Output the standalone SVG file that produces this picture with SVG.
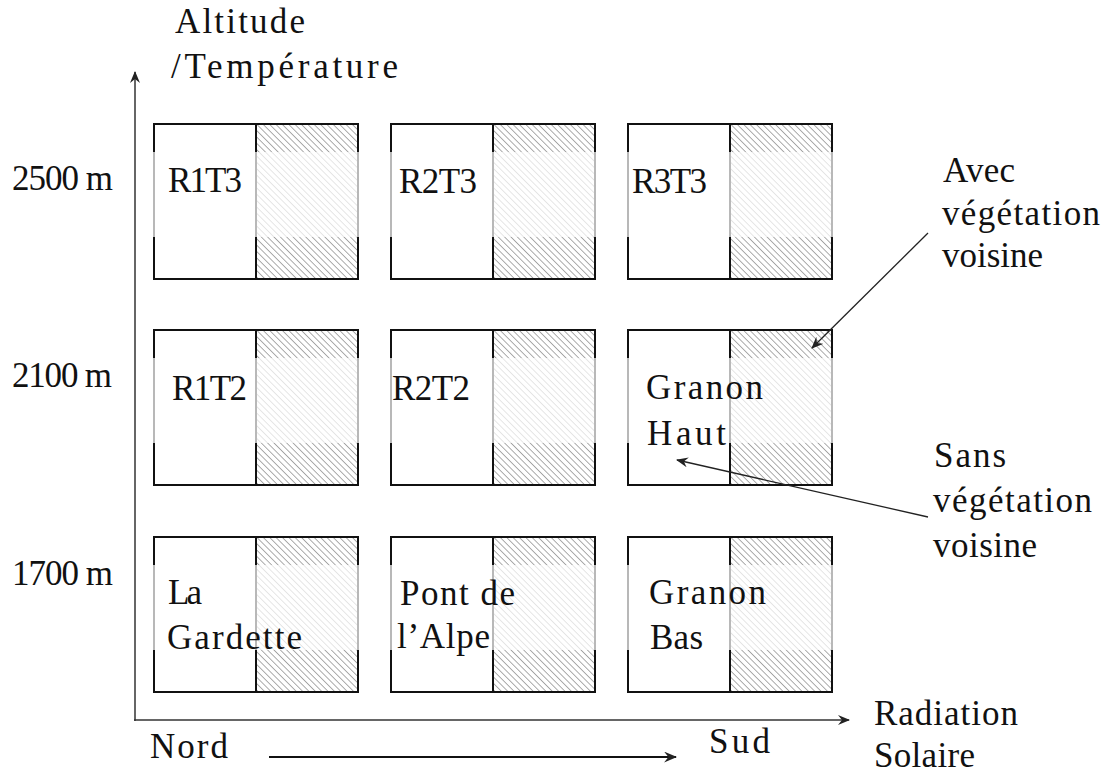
<svg xmlns="http://www.w3.org/2000/svg" width="1108" height="773" viewBox="0 0 1108 773">
<style>
text{font-family:"Liberation Serif","Times New Roman",serif;font-size:35px;fill:#111;}
.box{fill:#fff;stroke:#111;stroke-width:2;}
.hatch{fill:url(#hp);}
.div{stroke:#111;stroke-width:2;}
.band{fill:#fff;fill-opacity:0.7;}
.ax{stroke:#333;stroke-width:1.5;fill:none;}
.ptr{stroke:#222;stroke-width:1.3;fill:none;}
</style>
<defs>
<pattern id="hp" patternUnits="userSpaceOnUse" width="4.5" height="4.5" patternTransform="rotate(-45)">
<line x1="0" y1="0" x2="0" y2="4.5" stroke="#888" stroke-width="1.4"/>
</pattern>
<marker id="ah" viewBox="0 0 12 10" refX="11" refY="5" markerWidth="12" markerHeight="10" markerUnits="userSpaceOnUse" orient="auto">
<path d="M0,0 L12,5 L0,10 L4,5 Z" fill="#222"/>
</marker>
<marker id="ahs" viewBox="0 0 12 10" refX="11" refY="5" markerWidth="13" markerHeight="11" markerUnits="userSpaceOnUse" orient="auto">
<path d="M0,0 L12,5 L0,10 L4,5 Z" fill="#222"/>
</marker>
<g id="cell">
<rect class="box" x="0" y="0" width="204" height="155"/>
<rect class="hatch" x="102" y="1" width="101" height="153"/>
<line class="div" x1="102" y1="0" x2="102" y2="155"/>
<rect x="0" y="0" width="204" height="155" style="fill:none;stroke:#111;stroke-width:2"/>
<rect class="band" x="-2" y="28" width="208" height="85"/>
</g>
</defs>

<g id="axis-y-label">
<text x="175" y="33" textLength="130" lengthAdjust="spacing">Altitude</text>
<text x="171" y="78" textLength="227" lengthAdjust="spacing">/Température</text>
</g>
<g id="axis-x-label">
<text x="874" y="725" textLength="144" lengthAdjust="spacing">Radiation</text>
<text x="874" y="767" textLength="101" lengthAdjust="spacing">Solaire</text>
</g>
<g id="label-nord"><text x="150" y="758" textLength="78" lengthAdjust="spacing">Nord</text></g>
<g id="label-sud"><text x="709" y="753" textLength="61" lengthAdjust="spacing">Sud</text></g>
<g id="label-2500"><text x="12" y="190" textLength="101" lengthAdjust="spacing">2500 m</text></g>
<g id="label-2100"><text x="12" y="387" textLength="100" lengthAdjust="spacing">2100 m</text></g>
<g id="label-1700"><text x="12" y="585" textLength="101" lengthAdjust="spacing">1700 m</text></g>

<g id="box-R1T3"><use href="#cell" x="154" y="124"/><text x="168" y="192" textLength="74" lengthAdjust="spacing">R1T3</text></g>
<g id="box-R2T3"><use href="#cell" x="391" y="124"/><text x="399" y="193" textLength="78" lengthAdjust="spacing">R2T3</text></g>
<g id="box-R3T3"><use href="#cell" x="628" y="124"/><text x="632" y="193" textLength="75" lengthAdjust="spacing">R3T3</text></g>

<g id="box-R1T2"><use href="#cell" x="154" y="330"/><text x="172" y="400" textLength="75" lengthAdjust="spacing">R1T2</text></g>
<g id="box-R2T2"><use href="#cell" x="391" y="330"/><text x="392" y="400" textLength="78" lengthAdjust="spacing">R2T2</text></g>
<g id="box-GranonHaut"><use href="#cell" x="628" y="330"/><text x="646" y="399" textLength="117" lengthAdjust="spacing">Granon</text><text x="647" y="445" textLength="79" lengthAdjust="spacing">Haut</text></g>

<g id="box-LaGardette"><use href="#cell" x="154" y="537"/><text x="168" y="604" textLength="34" lengthAdjust="spacing">La</text><text x="167" y="649" textLength="135" lengthAdjust="spacing">Gardette</text></g>
<g id="box-PontAlpe"><use href="#cell" x="391" y="537"/><text x="400" y="605" textLength="115" lengthAdjust="spacing">Pont de</text><text x="397" y="648" textLength="93" lengthAdjust="spacing">l’Alpe</text></g>
<g id="box-GranonBas"><use href="#cell" x="628" y="537"/><text x="649" y="604" textLength="117" lengthAdjust="spacing">Granon</text><text x="650" y="649" textLength="53" lengthAdjust="spacing">Bas</text></g>

<g id="label-avec">
<text x="943" y="182" textLength="72" lengthAdjust="spacing">Avec</text>
<text x="942" y="225" textLength="158" lengthAdjust="spacing">végétation</text>
<text x="942" y="267" textLength="101" lengthAdjust="spacing">voisine</text>
</g>
<g id="label-sans">
<text x="934" y="467" textLength="72" lengthAdjust="spacing">Sans</text>
<text x="933" y="512" textLength="159" lengthAdjust="spacing">végétation</text>
<text x="933" y="557" textLength="104" lengthAdjust="spacing">voisine</text>
</g>

<g id="connectors">
<line class="ax" x1="135" y1="721" x2="135" y2="72" marker-end="url(#ah)"/>
<line class="ax" x1="134" y1="720" x2="849" y2="720" marker-end="url(#ah)"/>
<line x1="269" y1="757" x2="676" y2="757" stroke="#111" stroke-width="2" marker-end="url(#ahs)"/>
<line class="ptr" x1="928" y1="233" x2="812" y2="348" marker-end="url(#ah)"/>
<line class="ptr" x1="928" y1="517" x2="677" y2="460" marker-end="url(#ah)"/>
</g>
</svg>
